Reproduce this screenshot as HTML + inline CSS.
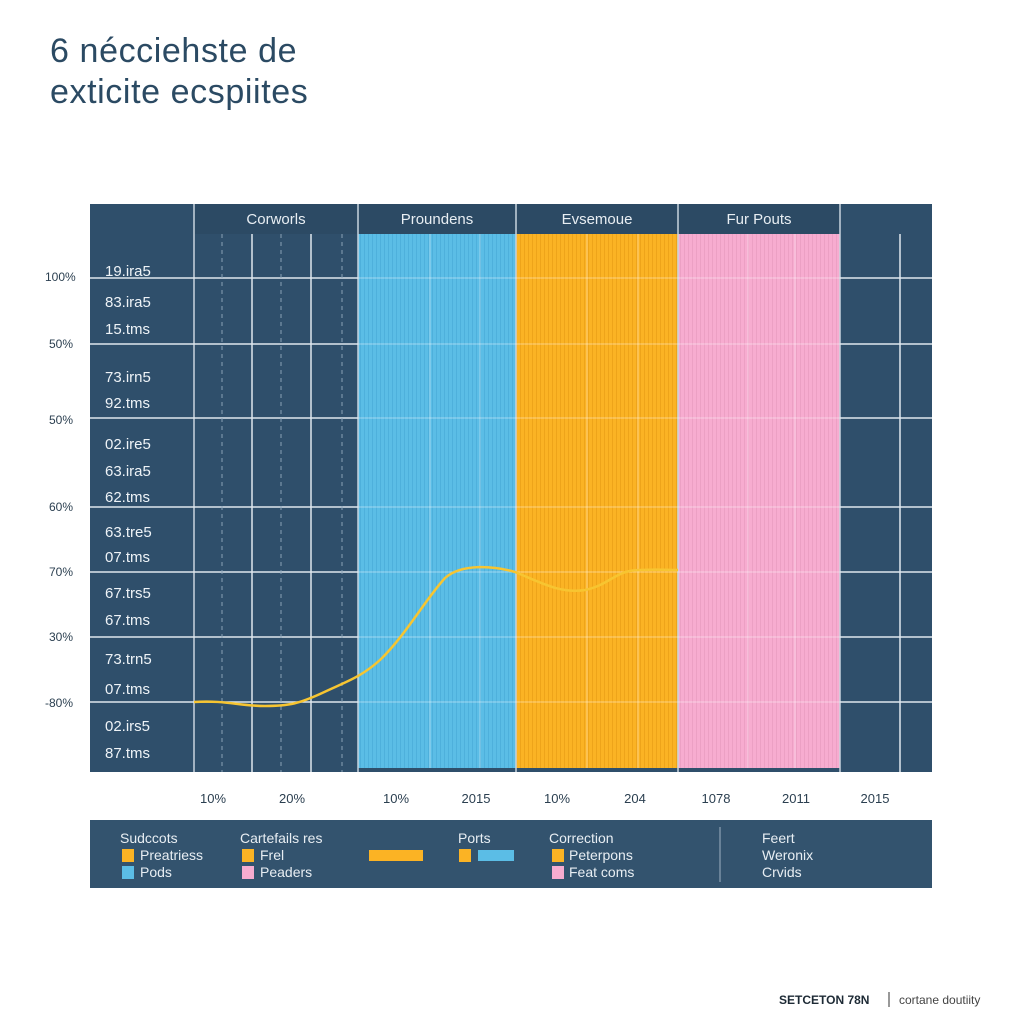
<!DOCTYPE html>
<html><head><meta charset="utf-8"><style>
html,body{margin:0;padding:0;background:#fff;}
svg{display:block;font-family:"Liberation Sans",sans-serif;}
</style></head><body>
<svg width="1024" height="1024" viewBox="0 0 1024 1024" xmlns="http://www.w3.org/2000/svg">
<defs>
<pattern id="pb" width="4" height="10" patternUnits="userSpaceOnUse"><rect width="4" height="10" fill="#5bbde6"/><rect width="1" height="10" fill="#4eb0dc"/></pattern>
<pattern id="po" width="4" height="10" patternUnits="userSpaceOnUse"><rect width="4" height="10" fill="#fbb324"/><rect width="1" height="10" fill="#eea41a"/></pattern>
<pattern id="pp" width="4" height="10" patternUnits="userSpaceOnUse"><rect width="4" height="10" fill="#f7acd0"/><rect width="1" height="10" fill="#eca0c4"/></pattern>
</defs>
<text x="50" y="62" font-size="34" letter-spacing="0.6" fill="#2b4a63">6 nécciehste de</text>
<text x="50" y="103" font-size="34" letter-spacing="0.6" fill="#2b4a63">exticite ecspiites</text>

<rect x="90" y="204" width="842" height="568" fill="#2f4f6b"/>
<rect x="194" y="204" width="646" height="30" fill="#2c4a64"/>
<rect x="358" y="234" width="158" height="534" fill="url(#pb)"/>
<rect x="516" y="234" width="162" height="534" fill="url(#po)"/>
<rect x="678" y="234" width="162" height="534" fill="url(#pp)"/>
<g stroke="#c8d4de" stroke-width="1.5">
<line x1="194" y1="204" x2="194" y2="772"/>
<line x1="358" y1="204" x2="358" y2="234"/>
<line x1="516" y1="204" x2="516" y2="772"/>
<line x1="678" y1="204" x2="678" y2="772"/>
<line x1="840" y1="204" x2="840" y2="772"/>
<line x1="358" y1="234" x2="358" y2="772"/>
</g>
<g stroke="#dfe7ee" stroke-width="1.5">
<line x1="90" y1="278" x2="358" y2="278"/>
<line x1="90" y1="344" x2="358" y2="344"/>
<line x1="90" y1="418" x2="358" y2="418"/>
<line x1="90" y1="507" x2="358" y2="507"/>
<line x1="90" y1="572" x2="358" y2="572"/>
<line x1="90" y1="637" x2="358" y2="637"/>
<line x1="90" y1="702" x2="358" y2="702"/>
<line x1="840" y1="278" x2="932" y2="278"/>
<line x1="840" y1="344" x2="932" y2="344"/>
<line x1="840" y1="418" x2="932" y2="418"/>
<line x1="840" y1="507" x2="932" y2="507"/>
<line x1="840" y1="572" x2="932" y2="572"/>
<line x1="840" y1="637" x2="932" y2="637"/>
<line x1="840" y1="702" x2="932" y2="702"/>
<line x1="252" y1="234" x2="252" y2="772"/>
<line x1="311" y1="234" x2="311" y2="772"/>
<line x1="900" y1="234" x2="900" y2="772"/>
</g>
<g stroke="#ffffff" stroke-opacity="0.35" stroke-width="1.2">
<line x1="358" y1="278" x2="840" y2="278"/><line x1="358" y1="344" x2="840" y2="344"/>
<line x1="358" y1="418" x2="840" y2="418"/><line x1="358" y1="507" x2="840" y2="507"/>
<line x1="358" y1="572" x2="840" y2="572"/><line x1="358" y1="637" x2="840" y2="637"/>
<line x1="358" y1="702" x2="840" y2="702"/>
<line x1="430" y1="234" x2="430" y2="768"/><line x1="480" y1="234" x2="480" y2="768"/>
<line x1="587" y1="234" x2="587" y2="768"/><line x1="638" y1="234" x2="638" y2="768"/>
<line x1="748" y1="234" x2="748" y2="768"/><line x1="795" y1="234" x2="795" y2="768"/>
</g>
<g stroke="#8aa2b6" stroke-width="1" stroke-dasharray="4,4">
<line x1="222" y1="234" x2="222" y2="772"/><line x1="281" y1="234" x2="281" y2="772"/><line x1="342" y1="234" x2="342" y2="772"/>
</g>
<g font-size="15" fill="#e8eef3" text-anchor="middle">
<text x="276" y="224">Corworls</text>
<text x="437" y="224">Proundens</text>
<text x="597" y="224">Evsemoue</text>
<text x="759" y="224">Fur Pouts</text>
</g>
<g font-size="15" fill="#eef3f7">
<text x="105" y="276">19.ira5</text><text x="105" y="307">83.ira5</text><text x="105" y="334">15.tms</text>
<text x="105" y="382">73.irn5</text><text x="105" y="408">92.tms</text>
<text x="105" y="449">02.ire5</text><text x="105" y="476">63.ira5</text><text x="105" y="502">62.tms</text>
<text x="105" y="537">63.tre5</text><text x="105" y="562">07.tms</text>
<text x="105" y="598">67.trs5</text><text x="105" y="625">67.tms</text>
<text x="105" y="664">73.trn5</text><text x="105" y="694">07.tms</text>
<text x="105" y="731">02.irs5</text><text x="105" y="758">87.tms</text>
</g>
<g font-size="12" fill="#2b3f50">
<text x="45" y="281">100%</text><text x="49" y="348">50%</text><text x="49" y="424">50%</text>
<text x="49" y="511">60%</text><text x="49" y="576">70%</text><text x="49" y="641">30%</text><text x="45" y="707">-80%</text>
</g>
<path d="M194,702 C225,700 240,706 265,706 C290,706 300,703 320,694 C345,682 360,678 380,660 C405,636 425,600 445,578 C462,563 495,566 515,572 C540,582 560,594 585,590 C610,585 615,570 640,570 C660,569 670,570 678,570" fill="none" stroke="#f7c531" stroke-width="2.5"/>
<g font-size="13" fill="#2b3f50" text-anchor="middle">
<text x="213" y="803">10%</text><text x="292" y="803">20%</text><text x="396" y="803">10%</text><text x="476" y="803">2015</text>
<text x="557" y="803">10%</text><text x="635" y="803">204</text><text x="716" y="803">1078</text><text x="796" y="803">2011</text><text x="875" y="803">2015</text>
</g>
<rect x="90" y="820" width="842" height="68" fill="#33536e"/>
<line x1="720" y1="827" x2="720" y2="882" stroke="#9fb2c2" stroke-width="1"/>
<g font-size="14" fill="#e8eef3">
<text x="120" y="843">Sudccots</text><text x="240" y="843">Cartefails res</text><text x="458" y="843">Ports</text><text x="549" y="843">Correction</text>
<text x="140" y="860">Preatriess</text><text x="140" y="877">Pods</text>
<text x="260" y="860">Frel</text><text x="260" y="877">Peaders</text>
<text x="569" y="860">Peterpons</text><text x="569" y="877">Feat coms</text>
<text x="762" y="843">Feert</text><text x="762" y="860">Weronix</text><text x="762" y="877">Crvids</text>
</g>
<rect x="122" y="849" width="12" height="13" fill="#fbb324"/><rect x="122" y="866" width="12" height="13" fill="#5bbde6"/>
<rect x="242" y="849" width="12" height="13" fill="#fbb324"/><rect x="242" y="866" width="12" height="13" fill="#f7acd0"/>
<rect x="369" y="850" width="54" height="11" fill="#fbb324"/>
<rect x="459" y="849" width="12" height="13" fill="#fbb324"/><rect x="478" y="850" width="36" height="11" fill="#5bbde6"/>
<rect x="552" y="849" width="12" height="13" fill="#fbb324"/><rect x="552" y="866" width="12" height="13" fill="#f7acd0"/>
<text x="779" y="1004" font-size="12" font-weight="bold" fill="#1d2a35">SETCETON 78N</text>
<line x1="889" y1="992" x2="889" y2="1007" stroke="#333" stroke-width="1"/>
<text x="899" y="1004" font-size="12" fill="#444">cortane doutiity</text>
</svg>
</body></html>
